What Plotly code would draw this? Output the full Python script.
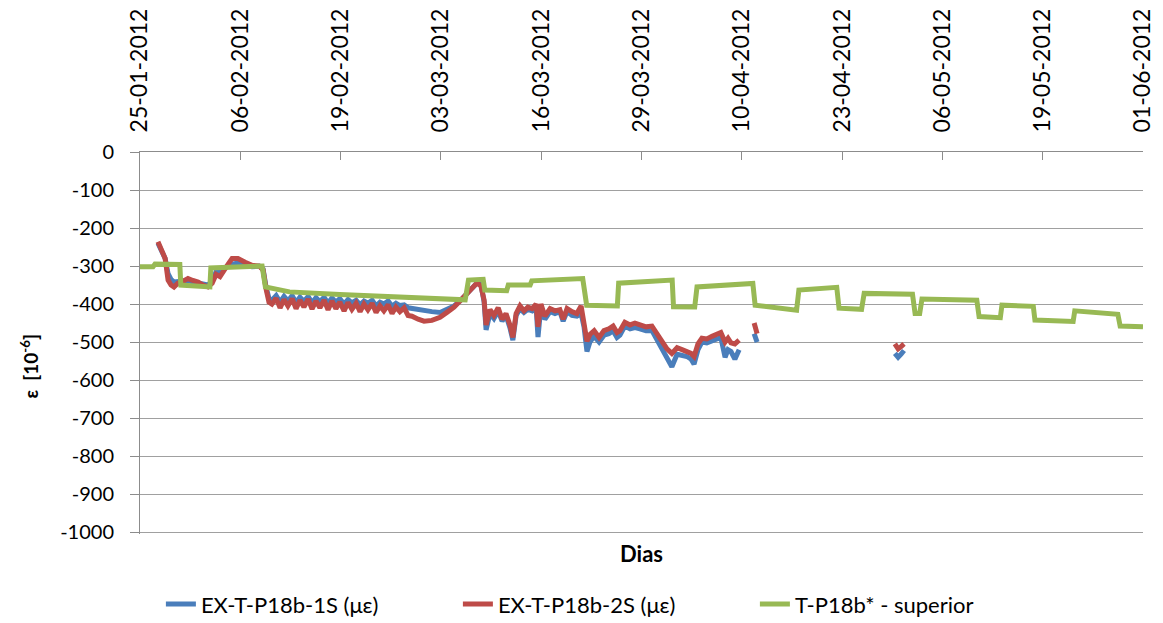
import plotly.graph_objects as go

# ---- measurement timestamps shared by the two extensometers ----
datas_ex = [
    "2012-01-27 07:00", "2012-01-27 19:00", "2012-01-28 05:00", "2012-01-28 14:00",
    "2012-01-28 23:00", "2012-01-29 08:00", "2012-01-29 20:00", "2012-01-30 12:00",
    "2012-01-31 03:00", "2012-01-31 18:00", "2012-02-01 10:00", "2012-02-02 01:00",
    "2012-02-02 16:00", "2012-02-03 05:00", "2012-02-03 17:00", "2012-02-04 05:00",
    "2012-02-04 17:00", "2012-02-05 06:00", "2012-02-05 18:00", "2012-02-06 12:00",
    "2012-02-07 10:00", "2012-02-08 07:00", "2012-02-09 05:00", "2012-02-09 17:00",
    "2012-02-10 02:00", "2012-02-10 11:00",
    "2012-02-10 20:00", "2012-02-11 09:00", "2012-02-11 21:00", "2012-02-12 09:00",
    "2012-02-12 21:00", "2012-02-13 10:00", "2012-02-13 22:00", "2012-02-14 10:00",
    "2012-02-14 22:00", "2012-02-15 11:00", "2012-02-15 23:00", "2012-02-16 11:00",
    "2012-02-16 23:00", "2012-02-17 12:00", "2012-02-18 00:00", "2012-02-18 12:00",
    "2012-02-19 00:00", "2012-02-19 12:00", "2012-02-20 01:00", "2012-02-20 13:00",
    "2012-02-21 01:00", "2012-02-21 14:00", "2012-02-22 02:00", "2012-02-22 14:00",
    "2012-02-23 02:00", "2012-02-23 15:00", "2012-02-24 03:00", "2012-02-24 15:00",
    "2012-02-25 03:00", "2012-02-25 16:00", "2012-02-26 04:00", "2012-02-26 16:00",
    "2012-02-27 04:00", "2012-02-27 17:00", "2012-02-28 05:00",
    "2012-02-28 17:00", "2012-02-29 12:00", "2012-03-01 06:00", "2012-03-02 06:00",
    "2012-03-03 07:00", "2012-03-04 04:00", "2012-03-05 02:00", "2012-03-05 20:00",
    "2012-03-06 14:00", "2012-03-07 09:00", "2012-03-08 00:00", "2012-03-08 12:00",
    "2012-03-08 22:00", "2012-03-09 04:00", "2012-03-09 16:00", "2012-03-10 04:00",
    "2012-03-10 17:00", "2012-03-11 05:00", "2012-03-11 17:00", "2012-03-12 05:00",
    "2012-03-12 14:00", "2012-03-13 00:00", "2012-03-13 12:00", "2012-03-14 00:00",
    "2012-03-14 12:00", "2012-03-15 01:00", "2012-03-15 13:00", "2012-03-15 19:00",
    "2012-03-16 04:00", "2012-03-16 16:00", "2012-03-17 08:00", "2012-03-17 23:00",
    "2012-03-18 14:00", "2012-03-19 00:00", "2012-03-19 12:00", "2012-03-20 03:00",
    "2012-03-20 18:00", "2012-03-21 07:00", "2012-03-21 16:00", "2012-03-22 01:00",
    "2012-03-22 10:00", "2012-03-22 23:00", "2012-03-23 14:00", "2012-03-24 05:00",
    "2012-03-24 20:00", "2012-03-25 09:00", "2012-03-25 21:00", "2012-03-26 06:00",
    "2012-03-26 21:00", "2012-03-27 13:00", "2012-03-28 04:00", "2012-03-28 19:00",
    "2012-03-29 14:00", "2012-03-30 08:00", "2012-03-31 00:00", "2012-03-31 15:00",
    "2012-04-01 06:00", "2012-04-01 21:00", "2012-04-02 13:00", "2012-04-03 04:00",
    "2012-04-03 19:00", "2012-04-04 08:00", "2012-04-04 17:00", "2012-04-05 05:00",
    "2012-04-05 17:00", "2012-04-06 08:00", "2012-04-07 00:00", "2012-04-07 15:00",
    "2012-04-08 03:00", "2012-04-08 16:00", "2012-04-09 01:00", "2012-04-09 10:00",
    "2012-04-09 22:00", "2012-04-10 11:00",
    "2012-04-11 12:00",
    "2012-04-12 09:00", "2012-04-12 15:00", "2012-04-12 18:00",
    "2012-04-20 00:00",
    "2012-04-30 08:00", "2012-04-30 18:00", "2012-05-01 03:00", "2012-05-01 12:00",
]

# EX-T-P18b-1S (με)  -- None marks the gaps in the record
ex_1s = [
    -240, -265, -280, -320, -335, -342, -340, -338, -338, -342, -345, -348,
    -350, -340, -315, -318, -305, -300, -295, -292, -298, -302, -300, -308,
    -355, -385,
    -390, -378, -395, -380, -392, -378, -396, -382, -393, -380, -397, -383,
    -394, -382, -398, -384, -395, -386, -400, -388, -397, -390, -402, -392,
    -398, -390, -405, -395, -400, -392, -406, -398, -404, -402, -410,
    -412, -416, -418, -420, -422, -415, -405, -392, -375, -360, -345, -348,
    -395, -468, -425, -438, -418, -445, -430, -462, -495, -430, -412, -422,
    -414, -418, -405, -487, -405, -440, -420, -425, -420, -445, -420, -430,
    -432, -425, -460, -525, -500, -485, -500, -482, -478, -470, -488, -482,
    -458, -465, -462, -465, -470, -470, -495, -515, -540, -565, -532, -535,
    -538, -545, -558, -520, -500, -502, -495, -492, -488, -540, -520, -525,
    -545, -520,
    None,
    -478, -490, -500,
    None,
    -530, -540, -532, -522,
]

# EX-T-P18b-2S (με)
ex_2s = [
    -236, -262, -280, -337, -350, -355, -345, -340, -333, -338, -342, -350,
    -355, -345, -322, -328, -310, -295, -280, -280, -290, -298, -300, -310,
    -360, -395,
    -400, -385, -410, -388, -405, -386, -412, -390, -408, -387, -413, -392,
    -410, -390, -415, -392, -412, -395, -418, -396, -414, -398, -420, -400,
    -415, -398, -422, -405, -418, -402, -425, -408, -420, -410, -430,
    -432, -440, -445, -443, -435, -422, -408, -392, -375, -358, -345, -352,
    -390, -455, -415, -430, -410, -440, -425, -455, -488, -425, -405, -418,
    -408, -412, -400, -460, -400, -432, -412, -418, -415, -440, -412, -420,
    -425, -405, -450, -498, -480, -470, -488, -470, -465, -458, -475, -470,
    -448, -455, -450, -455, -460, -458, -480, -500, -518, -530, -515, -520,
    -525, -530, -538, -505, -490, -492, -485, -480, -475, -500, -490, -502,
    -505, -495,
    None,
    -450, -465, -478,
    None,
    -505, -518, -512, -505,
]

# T-P18b* - superior
datas_t = [
    "2012-01-25 00:00", "2012-01-26 16:00", "2012-01-26 22:00", "2012-01-30 02:00",
    "2012-01-30 05:00", "2012-02-02 22:00", "2012-02-03 01:00", "2012-02-09 14:00",
    "2012-02-10 00:00", "2012-02-13 02:00", "2012-02-19 12:00", "2012-03-06 12:00",
    "2012-03-06 22:00", "2012-03-08 19:00", "2012-03-09 00:00", "2012-03-11 19:00",
    "2012-03-12 00:00", "2012-03-14 19:00", "2012-03-15 00:00", "2012-03-21 12:00",
    "2012-03-22 00:00", "2012-03-25 22:00", "2012-03-26 02:00", "2012-04-01 22:00",
    "2012-04-02 02:00", "2012-04-04 19:00", "2012-04-05 02:00", "2012-04-12 05:00",
    "2012-04-12 12:00", "2012-04-17 19:00", "2012-04-18 02:00", "2012-04-22 22:00",
    "2012-04-23 05:00", "2012-04-26 02:00", "2012-04-26 10:00", "2012-05-02 14:00",
    "2012-05-02 22:00", "2012-05-03 12:00", "2012-05-03 19:00", "2012-05-10 19:00",
    "2012-05-11 02:00", "2012-05-13 19:00", "2012-05-14 00:00", "2012-05-18 00:00",
    "2012-05-18 05:00", "2012-05-23 02:00", "2012-05-23 07:00", "2012-05-28 19:00",
    "2012-05-29 02:00", "2012-06-01 00:00",
]
t_sup = [
    -302, -302, -295, -296, -350, -355, -305, -300, -355, -368, -375, -389,
    -337, -335, -363, -365, -350, -350, -339, -333, -403, -405, -345, -337,
    -407, -408, -355, -346, -403, -416, -363, -356, -411, -414, -372, -374,
    -425, -425, -387, -390, -433, -436, -403, -406, -442, -446, -418, -427,
    -458, -460,
]

# ---- axis tick labels ----
tick_datas = [
    "2012-01-25 00:00", "2012-02-06 19:12", "2012-02-19 14:24", "2012-03-03 09:36",
    "2012-03-16 04:48", "2012-03-29 00:00", "2012-04-10 19:12", "2012-04-23 14:24",
    "2012-05-06 09:36", "2012-05-19 04:48", "2012-06-01 00:00",
]
tick_rotulos = [
    "25-01-2012", "06-02-2012", "19-02-2012", "03-03-2012", "16-03-2012",
    "29-03-2012", "10-04-2012", "23-04-2012", "06-05-2012", "19-05-2012",
    "01-06-2012",
]
y_ticks = list(range(0, -1001, -100))

AZUL = "#4A7EBB"
VERMELHO = "#BE4B48"
VERDE = "#98B954"
FONTE = "Lato, 'Open Sans', sans-serif"

fig = go.Figure()
fig.add_trace(go.Scatter(x=datas_ex, y=ex_1s, mode="lines", name="EX-T-P18b-1S (με)",
                         line=dict(color=AZUL, width=5), connectgaps=False))
fig.add_trace(go.Scatter(x=datas_ex, y=ex_2s, mode="lines", name="EX-T-P18b-2S (με)",
                         line=dict(color=VERMELHO, width=5), connectgaps=False))
fig.add_trace(go.Scatter(x=datas_t, y=t_sup, mode="lines", name="T-P18b* - superior",
                         line=dict(color=VERDE, width=5)))

fig.update_layout(
    width=1163, height=623,
    margin=dict(l=140, r=20, t=152, b=89, autoexpand=False),
    paper_bgcolor="white", plot_bgcolor="white",
    font=dict(family=FONTE, color="black", size=20),
    showlegend=True,
    legend=dict(orientation="h", x=0.465, xanchor="center", y=0.03, yref="container",
                yanchor="middle", font=dict(size=22), entrywidth=252,
                traceorder="normal"),
    xaxis=dict(
        type="date", side="top", automargin=False,
        range=["2012-01-25", "2012-06-01"],
        tickmode="array", tickvals=tick_datas, ticktext=tick_rotulos,
        tickangle=-90, tickfont=dict(size=23),
        ticks="inside", ticklen=8, tickcolor="#8C8C8C", tickwidth=1,
        showline=True, linecolor="#8C8C8C", linewidth=1,
        showgrid=False, zeroline=False, ticklabelstandoff=14,
    ),
    yaxis=dict(
        range=[-1005, 0], automargin=False,
        tickmode="array", tickvals=y_ticks, ticktext=[str(v) for v in y_ticks],
        tickfont=dict(size=20),
        ticks="outside", ticklen=9, tickcolor="#8C8C8C",
        showline=True, linecolor="#8C8C8C", linewidth=1,
        showgrid=True, gridcolor="#A0A0A0", gridwidth=1,
        zeroline=False, ticklabelstandoff=12,
    ),
    annotations=[
        dict(text="<b>Dias</b>", x=0.5, y=-0.05, xref="paper", yref="paper",
             showarrow=False, font=dict(size=22), xanchor="center", yanchor="middle"),
        dict(text="<b>ε  [10<sup>-6</sup>]</b>", x=-0.11, y=0.44, xref="paper",
             yref="paper", showarrow=False, textangle=-90, font=dict(size=19),
             xanchor="center", yanchor="middle"),
    ],
)

fig.write_html("out.html", config={"displayModeBar": False})
